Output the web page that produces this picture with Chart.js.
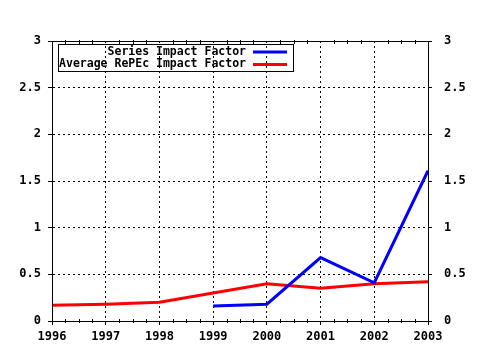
<!DOCTYPE html>
<html>
<head>
  <meta charset="UTF-8">
  <title>Impact Factor</title>
  <script src="https://cdn.jsdelivr.net/npm/chart.js"></script>
  <style>
    html, body { margin: 0; padding: 0; background: #fff; }
    #wrap { width: 480px; height: 350px; }
  </style>
</head>
<body>
  <div id="wrap"><canvas id="ifChart" width="480" height="350"></canvas></div>

  <script>
    const years = [1996, 1997, 1998, 1999, 2000, 2001, 2002, 2003];
    const seriesIF = [null, null, null, 0.16, 0.18, 0.68, 0.41, 1.61];
    const avgIF = [0.17, 0.18, 0.20, 0.30, 0.40, 0.35, 0.40, 0.42];
    const yTicks = [0, 0.5, 1, 1.5, 2, 2.5, 3];

    const FONT = '"DejaVu Sans Mono", "Liberation Mono", monospace';

    // plot box, minor ticks and the boxed legend (gnuplot style)
    const framePlugin = {
      id: 'frame',
      afterDraw(chart) {
        const ctx = chart.ctx;
        const a = chart.chartArea;
        const x = chart.scales.x;
        ctx.save();
        ctx.strokeStyle = '#000';
        ctx.lineWidth = 1;
        ctx.strokeRect(a.left + 0.5, a.top + 0.5, a.right - a.left, a.bottom - a.top);

        // quarter-year minor ticks, bottom and top
        ctx.beginPath();
        for (let i = 0; i < years.length - 1; i++) {
          for (let q = 1; q < 4; q++) {
            const px = Math.round(x.getPixelForValue(years[i] + q / 4)) + 0.5;
            ctx.moveTo(px, a.bottom - 2); ctx.lineTo(px, a.bottom + 2);
            ctx.moveTo(px, a.top - 1); ctx.lineTo(px, a.top + 3);
          }
        }
        ctx.stroke();

        // legend
        const bx = 58, by = 44, bw = 235, bh = 27;
        ctx.strokeRect(bx + 0.5, by + 0.5, bw, bh);
        ctx.font = 'bold 11.5px ' + FONT;
        ctx.textAlign = 'right';
        ctx.textBaseline = 'middle';
        chart.data.datasets.forEach((ds, i) => {
          const ty = by + 8 + i * 12.5;
          ctx.fillStyle = '#000';
          ctx.fillText(ds.label, 246, ty);
          ctx.strokeStyle = ds.borderColor;
          ctx.lineWidth = 3;
          ctx.beginPath();
          ctx.moveTo(253, ty);
          ctx.lineTo(287, ty);
          ctx.stroke();
        });
        ctx.restore();
      }
    };

    const ctx = document.getElementById('ifChart').getContext('2d');
    new Chart(ctx, {
      type: 'line',
      data: {
        labels: years,
        datasets: [
          {
            label: 'Series Impact Factor',
            data: years.map((y, i) => ({ x: y, y: seriesIF[i] })),
            borderColor: '#0000ff',
            borderWidth: 3,
            pointRadius: 0,
            tension: 0,
            spanGaps: false
          },
          {
            label: 'Average RePEc Impact Factor',
            data: years.map((y, i) => ({ x: y, y: avgIF[i] })),
            borderColor: '#ff0000',
            borderWidth: 3,
            pointRadius: 0,
            tension: 0
          }
        ]
      },
      options: {
        responsive: false,
        animation: false,
        devicePixelRatio: 1,
        layout: { padding: { top: 41, left: 0, right: 0, bottom: 0 } },
        plugins: { legend: { display: false }, tooltip: { enabled: false } },
        scales: {
          x: {
            type: 'linear',
            min: 1996,
            max: 2003,
            afterFit: s => { s.height = 29; },
            afterBuildTicks: s => { s.ticks = years.map(v => ({ value: v })); },
            ticks: {
              color: '#000',
              font: { family: FONT, size: 12, weight: 'bold' },
              padding: 5,
              maxRotation: 0,
              callback: v => String(v)
            },
            grid: { color: '#000', tickLength: 4, tickColor: '#000' },
            border: { color: '#000', dash: [2, 3] }
          },
          y: {
            position: 'left',
            min: 0,
            max: 3,
            afterFit: s => { s.width = 52; },
            afterBuildTicks: s => { s.ticks = yTicks.map(v => ({ value: v })); },
            ticks: {
              color: '#000',
              font: { family: FONT, size: 12, weight: 'bold' },
              padding: 7,
              callback: v => String(v)
            },
            grid: { color: '#000', tickLength: 4, tickColor: '#000' },
            border: { color: '#000', dash: [2, 3] }
          },
          y1: {
            position: 'right',
            min: 0,
            max: 3,
            afterFit: s => { s.width = 52; },
            afterBuildTicks: s => { s.ticks = yTicks.map(v => ({ value: v })); },
            ticks: {
              color: '#000',
              font: { family: FONT, size: 12, weight: 'bold' },
              padding: 12,
              callback: v => String(v)
            },
            grid: { drawOnChartArea: false, tickLength: 4, tickColor: '#000' },
            border: { color: '#000' }
          }
        }
      },
      plugins: [framePlugin]
    });
  </script>
</body>
</html>
